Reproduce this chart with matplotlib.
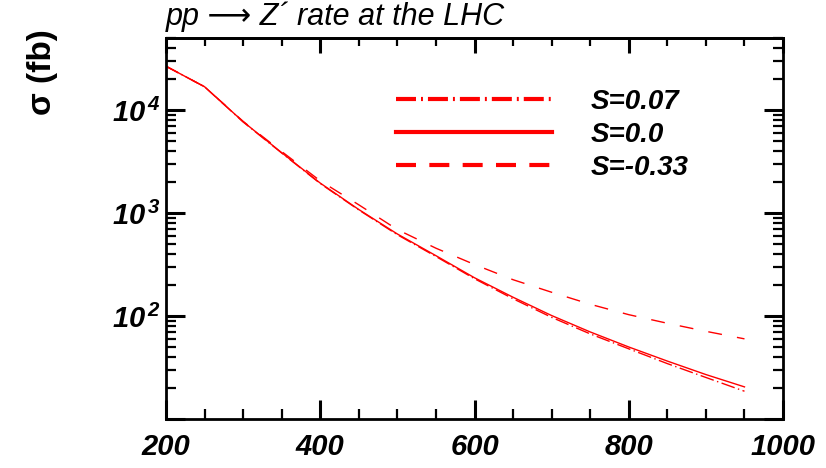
import matplotlib
matplotlib.use('Agg')
import matplotlib.pyplot as plt
import numpy as np
from matplotlib.lines import Line2D
from matplotlib.ticker import LogLocator, FuncFormatter, NullFormatter, MultipleLocator

plt.rcParams['font.family'] = ['Liberation Sans', 'DejaVu Sans']
plt.rcParams['mathtext.fontset'] = 'custom'
plt.rcParams['mathtext.rm'] = 'Liberation Sans:bold:italic'
plt.rcParams['mathtext.it'] = 'Liberation Sans:bold:italic'
plt.rcParams['mathtext.bf'] = 'Liberation Sans:bold:italic'
plt.rcParams['lines.scale_dashes'] = False

# Z' mass (GeV) and cross sections (fb)
mass = [200, 250, 300, 350, 400, 450, 500, 550, 600, 650, 700, 750, 800, 850, 900, 950]
sigma_s007 = [26600, 16800, 7650, 3820, 1930, 1070, 615, 378, 230, 147, 97, 67, 48, 34.5, 25.3, 18.6]
sigma_s0 = [26600, 16800, 7700, 3850, 1950, 1080, 625, 385, 235, 152, 101, 70, 50, 36.5, 27, 20.5]
sigma_sm033 = [26600, 16800, 7750, 3950, 2050, 1200, 690, 455, 316, 225, 170, 130, 103, 85, 71, 60]

labels = ['S=0.07', 'S=0.0', 'S=-0.33']
red = '#ff0000'


def ylab(v, pos):
    n = int(round(np.log10(v)))
    if n < 2:
        return ''
    return r'$10^{\,%d}$' % n


fig = plt.figure(figsize=(8.26, 4.68), dpi=100)
ax = fig.add_axes([0.201, 0.1047, 0.747, 0.8141])

ax.plot(mass, sigma_s007, color=red, lw=1.0, dashes=(10, 2.5, 1, 2.5))
ax.plot(mass, sigma_s0, color=red, lw=1.0)
ax.plot(mass, sigma_sm033, color=red, lw=1.0, dashes=(10, 11))

ax.set_yscale('log')
ax.set_xlim(200, 1000)
ax.set_ylim(10, 5e4)

ax.xaxis.set_major_locator(MultipleLocator(200))
ax.xaxis.set_minor_locator(MultipleLocator(50))
ax.yaxis.set_major_locator(LogLocator(base=10))
ax.yaxis.set_minor_locator(LogLocator(base=10, subs=np.arange(2, 10)))
ax.yaxis.set_major_formatter(FuncFormatter(ylab))
ax.yaxis.set_minor_formatter(NullFormatter())

ax.tick_params(axis='x', labelsize=21, pad=10)
ax.tick_params(axis='y', labelsize=21, pad=4)
ax.tick_params(which='major', direction='in', length=14, width=2.2, top=False, right=True)
ax.tick_params(which='minor', direction='in', length=7.5, width=1.6, top=False, right=True)
for lab in ax.get_xticklabels():
    lab.set_fontstyle('italic')
    lab.set_fontweight('bold')

top = ax.secondary_xaxis('top')
top.xaxis.set_major_locator(MultipleLocator(200))
top.xaxis.set_minor_locator(MultipleLocator(50))
top.tick_params(which='major', direction='in', length=11, width=2.2, labeltop=False)
top.tick_params(which='minor', direction='in', length=6, width=1.6)
top.spines['top'].set_linewidth(2)

for s in ax.spines.values():
    s.set_linewidth(2)

handles = [Line2D([], [], color=red, lw=3, dashes=(14.4, 3.6, 1.4, 3.6)),
           Line2D([], [], color=red, lw=3),
           Line2D([], [], color=red, lw=3, dashes=(14.4, 9.6))]
ax.legend(handles, labels, loc='upper left', bbox_to_anchor=(0.373, 0.866),
          frameon=False, borderpad=0, borderaxespad=0, handlelength=5.6,
          handletextpad=1.4, labelspacing=0.25,
          prop={'size': 20, 'style': 'italic', 'weight': 'bold'})

ax.text(0, 1.015, 'pp \u27f6 Z\u00b4 rate at the LHC', transform=ax.transAxes,
        fontsize=22, fontstyle='italic', ha='left', va='bottom')
fig.text(0.051, 0.846, '\u03c3 (fb)', rotation=90, fontsize=24, fontweight='bold',
         ha='center', va='center')

fig.savefig('out.png', dpi=100)
